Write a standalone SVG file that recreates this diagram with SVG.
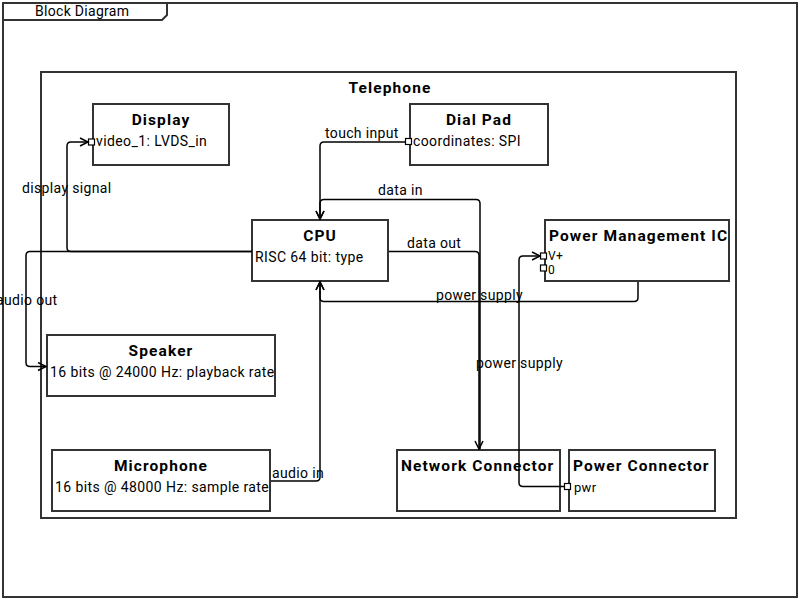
<svg xmlns="http://www.w3.org/2000/svg" width="800" height="600" viewBox="0 0 800 600">
<style>
text{font-family:Roboto,"Liberation Sans",sans-serif;fill:#000}
.box{fill:#fff;stroke:#333;stroke-width:2}
.frame{fill:none;stroke:#333;stroke-width:2}
.t{font-size:15.5px;font-weight:bold;letter-spacing:1.1px}
.b{font-size:14px;letter-spacing:0.4px}
.p{font-size:13px;letter-spacing:0.3px}
.q{font-size:12px;letter-spacing:0.3px}
.lbl{font-size:14px;letter-spacing:0.35px}
.port{fill:#fff;stroke:#000;stroke-width:1.2}
.c{fill:none;stroke:#000;stroke-width:1.5}
</style>
<defs>
<marker id="arr" markerUnits="userSpaceOnUse" markerWidth="12" markerHeight="12" refX="9" refY="5" orient="auto">
<path d="M1,1 L9,5 L1,9" fill="none" stroke="#000" stroke-width="1.5"/>
</marker>
</defs>
<rect x="0" y="0" width="800" height="600" fill="#fff"/>
<g id="frame">
<rect class="frame" x="3" y="3" width="794" height="594"/>
<path class="frame" d="M3,20 H162 L167,15 V3"/>
<text x="35" y="16" font-size="14" letter-spacing="0.3">Block Diagram</text>
</g>
<g id="telephone">
<rect class="box" x="41" y="72" width="695" height="446"/>
<text x="390" y="93" class="t" text-anchor="middle">Telephone</text>
</g>
<g id="display">
<rect class="box" x="93" y="104" width="136" height="61"/>
<text x="161" y="125" class="t" text-anchor="middle">Display</text>
<rect class="port" x="88.5" y="139" width="6" height="6"/>
<text x="96" y="146" class="b">video_1: LVDS_in</text>
</g>
<g id="dialpad">
<rect class="box" x="410" y="104" width="138" height="61"/>
<text x="479" y="125" class="t" text-anchor="middle">Dial Pad</text>
<rect class="port" x="405.5" y="138.5" width="6" height="6"/>
<text x="413" y="146" class="b">coordinates: SPI</text>
</g>
<g id="cpu">
<rect class="box" x="252" y="220" width="136" height="61"/>
<text x="320" y="241" class="t" text-anchor="middle">CPU</text>
<text x="255" y="262" class="b">RISC 64 bit: type</text>
</g>
<g id="pmic">
<rect class="box" x="545" y="220" width="184" height="61"/>
<text x="549" y="241" class="t">Power Management IC</text>
<rect class="port" x="540.5" y="253" width="6" height="6"/>
<text x="548" y="260" class="q">V+</text>
<rect class="port" x="540.5" y="265" width="6" height="6"/>
<text x="548" y="273.5" class="q">0</text>
</g>
<g id="speaker">
<rect class="box" x="47" y="335" width="228" height="61"/>
<text x="161" y="356" class="t" text-anchor="middle">Speaker</text>
<text x="50" y="377" class="b">16 bits @ 24000 Hz: playback rate</text>
</g>
<g id="microphone">
<rect class="box" x="52" y="450" width="218" height="61"/>
<text x="161" y="471" class="t" text-anchor="middle">Microphone</text>
<text x="55" y="492" class="b">16 bits @ 48000 Hz: sample rate</text>
</g>
<g id="network">
<rect class="box" x="397" y="450" width="163" height="61"/>
<text x="401" y="471" class="t">Network Connector</text>
</g>
<g id="powerconn">
<rect class="box" x="569" y="450" width="146" height="61"/>
<text x="573" y="471" class="t">Power Connector</text>
<rect class="port" x="564.5" y="483.5" width="6" height="6"/>
<text x="574" y="492" class="p">pwr</text>
</g>
<g id="connectors">
<path class="c" d="M252,251.5 H71 Q67,251.5 67,247.5 V146 Q67,142 71,142 H88" marker-end="url(#arr)"/>
<text x="22" y="193" class="lbl">display signal</text>
<path class="c" d="M252,251.5 H30 Q26,251.5 26,255.5 V362.5 Q26,366.5 30,366.5 H46" marker-end="url(#arr)"/>
<text x="-4" y="305" class="lbl">audio out</text>
<path class="c" d="M405,142 H324 Q320,142 320,146 V219" marker-end="url(#arr)"/>
<text x="325" y="138" class="lbl">touch input</text>
<path class="c" d="M480,449 V203.5 Q480,199.5 476,199.5 H324 Q320,199.5 320,203.5 V219" marker-end="url(#arr)"/>
<text x="378" y="195" class="lbl">data in</text>
<path class="c" d="M389,251.5 H475 Q479,251.5 479,255.5 V449" marker-end="url(#arr)"/>
<text x="407" y="248" class="lbl">data out</text>
<path class="c" d="M638,282 V297.5 Q638,301.5 634,301.5 H324 Q320,301.5 320,297.5 V282" marker-end="url(#arr)"/>
<text x="436" y="300" class="lbl">power supply</text>
<path class="c" d="M564,486.5 H523 Q519,486.5 519,482.5 V260 Q519,256 523,256 H540" marker-end="url(#arr)"/>
<text x="476" y="368" class="lbl">power supply</text>
<path class="c" d="M271,481 H316 Q320,481 320,477 V282" marker-end="url(#arr)"/>
<text x="272" y="478" class="lbl">audio in</text>
</g>
</svg>
